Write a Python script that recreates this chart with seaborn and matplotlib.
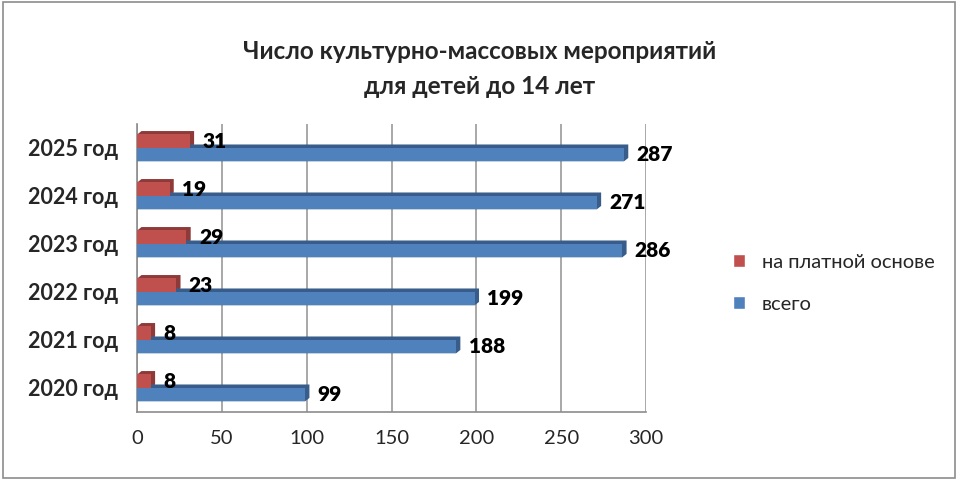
import pandas as pd
import seaborn as sns
import matplotlib.pyplot as plt
from matplotlib.patches import Polygon, Rectangle

years = ["2025 год", "2024 год", "2023 год", "2022 год", "2021 год", "2020 год"]
paid = [31, 19, 29, 23, 8, 8]
total = [287, 271, 286, 199, 188, 99]
series = ["на платной основе", "всего"]
colors = {"на платной основе": "#C0504D", "всего": "#4F81BD"}
dark = {"на платной основе": "#8E3A38", "всего": "#385D8A"}

df = pd.DataFrame({
    "year": years * 2,
    "value": paid + total,
    "series": [series[0]] * len(years) + [series[1]] * len(years),
})

sns.set_style("white")
plt.rcParams["font.family"] = ["Lato", "DejaVu Sans"]

fig = plt.figure(figsize=(9.6, 4.8), dpi=100)
ax = fig.add_axes([0.143, 0.142, 0.53, 0.6])

sns.barplot(data=df, y="year", x="value", hue="series", hue_order=series,
            order=years, palette=colors, width=0.56, orient="h", saturation=1,
            linewidth=0, legend=False, ax=ax, zorder=3)

# pseudo 3D faces, drawn behind the bars
dx, dy = 2.5, 0.07
for container, name in zip(ax.containers, series):
    for bar in container:
        x0, y0 = bar.get_x(), bar.get_y()
        w, h = bar.get_width(), bar.get_height()
        face = Polygon([(x0 + dx, y0 - dy), (x0 + w + dx, y0 - dy), (x0 + w + dx, y0 + h - dy),
                        (x0 + w, y0 + h), (x0, y0 + h), (x0, y0)],
                       closed=True, fc=dark[name], ec="none", zorder=2.9)
        ax.add_patch(face)
    ax.bar_label(container, padding=9, fontsize=15, fontweight="heavy", color="black")

ax.set_xlim(0, 300)
ax.set_xticks(range(0, 301, 50))
ax.set_yticks(range(len(years)))
ax.set_yticklabels(years, fontsize=15.5, fontweight="bold")
ax.set_xlabel("")
ax.set_ylabel("")
ax.grid(axis="x", color="#9a9a9a", linewidth=1.2, zorder=0)
ax.tick_params(axis="x", labelsize=14.5, length=5, color="#8c8c8c", direction="out", pad=8)
ax.tick_params(axis="y", length=0, pad=14)
for s in ["top", "right"]:
    ax.spines[s].set_visible(False)
for s in ["left", "bottom"]:
    ax.spines[s].set_color("#8c8c8c")
    ax.spines[s].set_linewidth(1.2)

fig.text(0.5, 0.893, "Число культурно-массовых мероприятий", ha="center", va="center",
         fontsize=17.5, fontweight="bold")
fig.text(0.5, 0.82, "для детей до 14 лет", ha="center", va="center",
         fontsize=17.5, fontweight="bold")

handles = [Rectangle((0, 0), 1, 1, fc=colors[s]) for s in series]
fig.legend(handles, series, loc="center left", bbox_to_anchor=(0.745, 0.41),
           frameon=False, fontsize=14.5, handlelength=0.6, handleheight=0.6,
           labelspacing=1.25, handletextpad=0.8)

fig.patches.append(Rectangle((0.003, 0.005), 0.992, 0.99, transform=fig.transFigure,
                             fill=False, ec="#8c8c8c", lw=1.2))

fig.savefig("out.png", dpi=100)
